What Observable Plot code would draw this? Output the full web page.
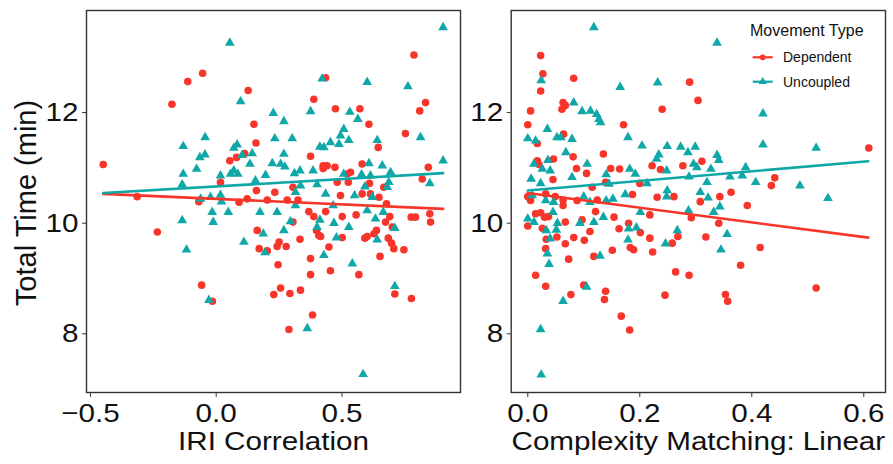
<!DOCTYPE html>
<html><head><meta charset="utf-8">
<script src="https://cdn.jsdelivr.net/npm/d3@7"></script>
<script src="https://cdn.jsdelivr.net/npm/@observablehq/plot@0.6"></script>
<style>
body{margin:0;background:#fff;}
#chart{display:flex;width:893px;height:464px;position:relative;background:#fff;}
#chart svg{display:block;}
</style></head><body><div id="chart"></div>
<script>
const seriesNames = ["Dependent", "Uncoupled"];
const seriesColors = ["#F8352B", "#0FA7A7"];
const yTicks = [8, 10, 12];
const iriTicks = [-0.5, 0, 0.5];
const cmTicks = [0, 0.2, 0.4, 0.6];
const yTitle = "Total Time (min)";
const iriTitle = "IRI Correlation";
const cmTitle = "Complexity Matching: Linear";
const legendTitle = "Movement Type";

// Panel 1: IRI Correlation — Dependent
const iriDepX = [-0.449,-0.314,-0.234,-0.176,-0.113,-0.054,-0.058,-0.015,-0.069,0.017,0.054,0.081,0.091,0.113,0.127,0.123,0.150,0.158,0.160,0.163,0.171,0.203,0.203,0.233,0.242,0.250,0.246,0.256,0.229,0.278,0.289,0.293,0.282,0.305,0.305,0.325,0.333,0.335,0.375,0.388,0.375,0.375,0.383,0.368,0.388,0.399,0.408,0.415,0.425,0.435,0.425,0.441,0.435,0.448,0.454,0.474,0.472,0.481,0.494,0.501,0.501,0.521,0.534,0.525,0.556,0.567,0.571,0.580,0.580,0.591,0.600,0.607,0.609,0.613,0.627,0.637,0.644,0.647,0.651,0.666,0.673,0.677,0.684,0.690,0.697,0.706,0.710,0.700,0.746,0.752,0.776,0.775,0.792,0.786,0.809,0.819,0.832,0.843,0.849,0.852];
const iriDepY = [11.06,10.48,9.84,12.15,12.56,12.71,8.88,8.59,10.39,10.74,11.13,11.19,10.38,11.26,12.40,10.44,11.79,11.45,10.59,9.87,9.54,10.42,9.50,10.56,9.58,9.66,9.25,8.83,8.71,9.58,8.08,8.73,10.42,10.65,10.02,10.42,9.71,8.79,11.21,12.24,9.36,9.07,8.34,10.21,10.12,9.87,9.78,9.76,11.04,12.63,10.99,11.04,10.21,9.57,9.14,12.07,11.01,10.74,10.50,10.12,9.74,10.89,10.92,10.74,10.15,9.07,12.07,11.07,10.53,9.73,9.76,11.79,10.72,10.53,9.81,9.87,11.37,10.47,9.40,10.65,10.02,10.35,9.73,10.12,9.64,9.54,8.72,9.93,9.52,11.62,8.64,10.11,10.11,13.04,12.03,10.80,12.18,11.01,10.17,10.02];
// Panel 1: IRI Correlation — Uncoupled
const iriUncX = [0.902,0.054,0.421,0.600,0.762,0.097,0.227,0.375,0.531,0.563,0.269,0.507,0.494,-0.044,0.233,0.302,0.527,0.812,0.640,-0.131,0.083,0.070,0.412,0.454,0.428,0.488,-0.045,-0.065,-0.078,0.143,0.269,0.103,0.134,0.223,0.256,0.273,0.902,-0.131,0.017,0.057,0.070,0.086,0.156,0.196,0.311,0.333,0.385,0.401,0.507,0.578,0.607,0.613,0.660,0.693,0.686,0.849,-0.135,-0.062,-0.023,0.017,0.021,0.048,-0.016,-0.012,-0.135,-0.118,-0.029,0.110,0.174,0.187,0.194,0.242,0.269,0.295,0.315,0.315,0.335,0.362,0.401,0.412,0.428,0.435,0.465,0.468,0.478,0.527,0.541,0.550,0.584,0.591,0.600,0.633,0.640,0.664,0.680,0.710,0.710,0.620];
const iriUncY = [13.54,13.26,12.61,12.55,12.47,12.20,11.99,12.02,12.01,11.88,11.84,11.70,11.58,11.55,11.53,11.53,11.50,11.55,11.50,11.39,11.42,11.36,11.38,11.46,11.37,11.43,11.24,11.19,10.98,11.26,11.25,11.23,11.07,11.08,11.07,11.02,11.13,10.89,10.86,10.89,10.95,10.89,10.77,10.87,10.90,10.95,10.95,10.70,10.89,10.88,11.08,10.86,11.04,10.92,10.74,10.72,10.70,10.44,10.47,10.51,10.39,10.20,10.20,10.02,10.05,9.52,8.61,9.66,10.20,9.81,9.47,10.20,9.87,10.03,10.32,10.56,10.68,8.10,9.93,10.06,9.42,10.53,10.32,10.00,9.74,9.93,9.27,10.50,7.27,10.66,10.23,10.08,9.70,10.20,10.65,8.86,9.91,10.47];

// Panel 2: Complexity Matching — Dependent
const cmDepX = [0.023,0.027,0.023,0.082,0.289,0.304,0.240,0.005,0.000,0.063,0.067,0.061,0.064,0.171,0.017,0.609,0.081,0.135,0.017,0.046,0.020,0.087,0.105,0.148,0.164,0.222,0.237,0.277,0.311,0.441,0.435,0.045,0.115,0.139,0.200,0.363,0.000,0.005,0.032,0.049,0.063,0.088,0.124,0.187,0.231,0.261,0.308,0.343,0.392,0.063,0.014,0.023,0.030,0.037,0.121,0.154,0.218,0.292,0.341,0.000,0.026,0.067,0.097,0.163,0.180,0.201,0.111,0.033,0.052,0.067,0.082,0.101,0.218,0.258,0.268,0.318,0.032,0.073,0.118,0.151,0.183,0.189,0.223,0.415,0.014,0.264,0.288,0.380,0.032,0.077,0.100,0.139,0.137,0.245,0.353,0.357,0.515,0.167,0.182];
const cmDepY = [13.03,12.70,12.39,12.62,12.55,12.22,12.06,12.03,11.78,12.18,12.13,12.06,11.61,11.78,11.44,11.36,11.20,11.25,11.13,11.16,11.06,10.99,10.90,10.99,10.98,11.04,10.97,11.04,11.12,10.82,10.68,10.79,10.65,10.74,10.72,10.56,10.48,10.41,10.53,10.48,10.42,10.41,10.42,10.52,10.47,10.48,10.39,10.48,10.32,10.32,10.17,10.19,10.11,10.12,10.21,10.11,10.15,10.10,10.00,9.95,9.91,10.02,10.06,9.90,10.00,9.83,9.85,9.71,9.75,9.63,9.74,9.69,9.73,9.64,9.76,9.75,9.54,9.35,9.40,9.51,9.56,9.52,9.48,9.56,9.06,9.12,9.06,9.24,8.86,8.71,8.88,8.77,8.62,8.70,8.71,8.59,8.83,8.32,8.07];
// Panel 2: Complexity Matching — Uncoupled
const cmUncX = [0.118,0.338,0.024,0.165,0.232,0.082,0.097,0.112,0.123,0.127,0.130,0.420,0.035,0.000,0.014,0.052,0.059,0.079,0.179,0.204,0.249,0.273,0.299,0.286,0.420,0.515,0.068,0.036,0.234,0.230,0.338,0.341,0.011,0.026,0.040,0.106,0.140,0.182,0.192,0.248,0.296,0.302,0.327,0.389,0.006,0.023,0.079,0.145,0.213,0.288,0.320,0.361,0.383,0.407,0.486,0.536,0.008,0.032,0.046,0.100,0.111,0.140,0.152,0.174,0.249,0.248,0.308,0.322,0.343,0.332,0.000,0.011,0.045,0.053,0.093,0.118,0.135,0.201,0.287,0.033,0.051,0.040,0.180,0.194,0.179,0.267,0.246,0.356,0.345,0.035,0.038,0.129,0.105,0.063,0.023,0.024];
const cmUncY = [13.54,13.26,12.58,12.46,12.54,12.18,12.02,12.03,11.97,11.88,11.82,11.98,11.70,11.53,11.49,11.55,11.55,11.52,11.55,11.40,11.39,11.38,11.38,11.28,11.42,11.36,11.28,11.14,11.24,11.16,11.23,11.14,11.07,10.98,10.95,11.07,10.88,10.98,10.89,10.95,11.07,11.01,10.98,11.01,10.80,10.72,10.83,10.71,10.72,10.84,10.74,10.84,10.86,10.74,10.68,10.45,10.50,10.41,10.38,10.48,10.38,10.41,10.44,10.52,10.59,10.48,10.56,10.46,10.30,10.20,10.08,10.02,10.20,10.00,10.00,10.02,10.11,10.20,10.23,9.87,9.88,9.72,9.90,9.92,9.70,9.87,9.63,9.80,9.52,9.45,9.26,9.41,8.85,8.59,8.08,7.26];

// Fitted (lm) lines, end points
const iriFitX = [-0.449, 0.902];
const iriFitDepY = [10.53, 10.26];
const iriFitUncY = [10.545, 10.905];
const cmFitX = [0.0, 0.608];
const cmFitDepY = [10.545, 9.74];
const cmFitUncY = [10.59, 11.12];

const yDomain = [6.94, 13.845];
const FONT = '"Liberation Sans", Arial, Helvetica, sans-serif';
const STRETCH = 1.14;

const toRows = (xs, ys, s) => xs.map((x, i) => ({x, y: ys[i], s}));

function stretchText(t, s) {
  const tr = t.getAttribute("transform");
  if (tr && tr.includes("translate")) {
    t.setAttribute("transform", tr + ` scale(${s},1)`);
  } else {
    const x = +(t.getAttribute("x") || 0), y = +(t.getAttribute("y") || 0);
    t.removeAttribute("x"); t.removeAttribute("y");
    t.setAttribute("transform", `translate(${x},${y}) scale(${s},1)`);
  }
}

function panel(o) {
  const dep = toRows(o.depX, o.depY, seriesNames[0]);
  const unc = toRows(o.uncX, o.uncY, seriesNames[1]);
  const fits = [...toRows(o.fitX, o.fitDep, seriesNames[0]), ...toRows(o.fitX, o.fitUnc, seriesNames[1])];
  const marks = [
    Plot.dot(dep, {x: "x", y: "y", fill: "s", symbol: "s", r: 3.8}),
    Plot.dot(unc, {x: "x", y: "y", fill: "s", symbol: "s", r: 3.6}),
    Plot.line(fits, {x: "x", y: "y", stroke: "s", z: "s", strokeWidth: 2.6}),
    Plot.frame({stroke: "#333", strokeWidth: 1.4}),
    Plot.axisY({ticks: yTicks, tickFormat: d3.format("d"), tickSize: 4, tickPadding: 4, label: null, fontSize: 26, stroke: "#333", fill: "#111"}),
    Plot.axisX({ticks: o.xTicks, tickFormat: d3.format(".1f"), tickSize: 5, tickPadding: 6, label: null, fontSize: 26, stroke: "#333", fill: "#111"}),
    Plot.text([o.title], {frameAnchor: "bottom", dy: 49, fontSize: 26, textAnchor: "middle", lineAnchor: "middle", fill: "#111"})
  ];
  if (o.yTitle) marks.push(Plot.text([o.yTitle], {frameAnchor: "left", rotate: -90, dx: -60, dy: 1.5, fontSize: 29, textAnchor: "middle", lineAnchor: "middle", fill: "#111"}));
  const svg = Plot.plot({
    width: o.width, height: 464,
    marginLeft: o.marginLeft, marginRight: o.marginRight, marginTop: 10, marginBottom: 72,
    x: {domain: o.xDomain},
    y: {domain: yDomain},
    color: {domain: seriesNames, range: seriesColors},
    symbol: {domain: seriesNames, range: ["circle", "triangle"]},
    style: {fontFamily: FONT, fontSize: "26px", background: "#fff", color: "#111", overflow: "visible"},
    marks
  });
  svg.querySelectorAll("text").forEach(t => {
    const tr = t.getAttribute("transform") || "";
    if (!tr.includes("rotate")) stretchText(t, STRETCH);
  });
  return svg;
}

const left = panel({width: 465, marginLeft: 86, marginRight: 5, xDomain: [-0.5155, 0.971], xTicks: iriTicks,
  title: iriTitle, yTitle, depX: iriDepX, depY: iriDepY, uncX: iriUncX, uncY: iriUncY,
  fitX: iriFitX, fitDep: iriFitDepY, fitUnc: iriFitUncY});
const right = panel({width: 428, marginLeft: 45.7, marginRight: 8, xDomain: [-0.0296, 0.6388], xTicks: cmTicks,
  title: cmTitle, depX: cmDepX, depY: cmDepY, uncX: cmUncX, uncY: cmUncY,
  fitX: cmFitX, fitDep: cmFitDepY, fitUnc: cmFitUncY});

// Legend inside the right panel (top-right)
const lg = d3.select(right).append("g").attr("font-family", FONT).attr("fill", "#111").attr("text-anchor", "start");
lg.append("text").attr("x", 285).attr("y", 35.5).attr("font-size", 16).attr("text-anchor", "start").text(legendTitle);
const keyY = [57.3, 81.7];
const keySym = [d3.symbolCircle, d3.symbolTriangle];
seriesNames.forEach((name, i) => {
  lg.append("line").attr("x1", 287.7).attr("x2", 307.7).attr("y1", keyY[i]).attr("y2", keyY[i])
    .attr("stroke", seriesColors[i]).attr("stroke-width", 2.2);
  lg.append("path").attr("d", d3.symbol(keySym[i], i ? 30 : 26)()).attr("transform", `translate(297.7,${keyY[i]})`)
    .attr("fill", seriesColors[i]);
  lg.append("text").attr("x", 318).attr("y", keyY[i] + 5).attr("font-size", 14).attr("text-anchor", "start").text(name);
});

document.getElementById("chart").append(left, right);
</script></body></html>
